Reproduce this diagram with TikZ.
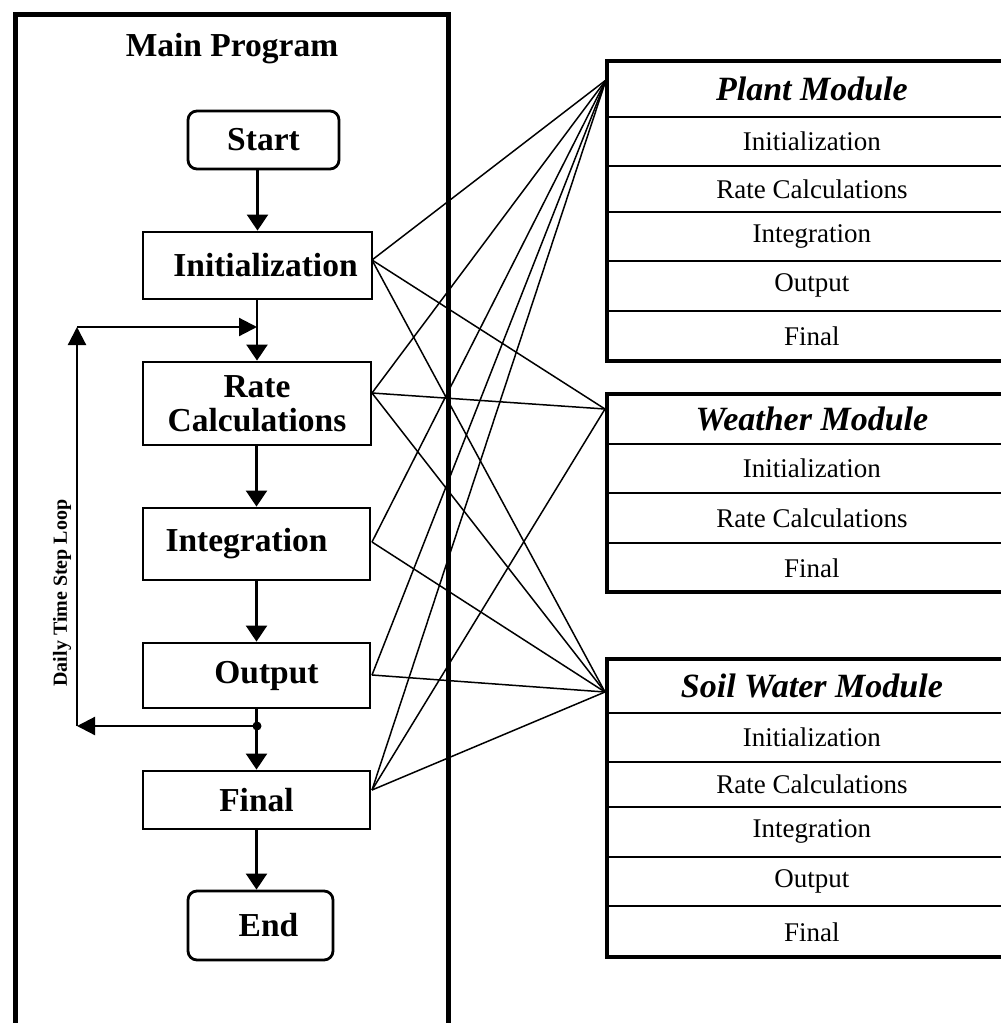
\documentclass[tikz,border=0pt]{standalone}
\usepackage{fontspec}
\setmainfont{Liberation Serif}
\usetikzlibrary{arrows.meta}
\begin{document}
\begin{tikzpicture}[x=1pt,y=-1pt,
  mbox/.style={draw,line width=2.8pt,rectangle,inner sep=0pt,font=\bfseries\fontsize{33.5}{34}\selectfont,align=center},
  rbox/.style={mbox,rounded corners=9pt},
  flow/.style={line width=2.2pt,-{Triangle[width=21pt,length=16pt]}},
  loopflow/.style={line width=2.2pt,-{Triangle[width=18pt,length=18pt]}},
  conn/.style={line width=1.5pt},
  modrow/.style={draw,line width=1.8pt,inner sep=0pt,minimum width=408pt,anchor=north west,font=\fontsize{27}{28}\selectfont},
  modtitle/.style={modrow,font=\bfseries\itshape\fontsize{34}{35}\selectfont},
  modframe/.style={draw,line width=4.8pt}
]
\useasboundingbox[fill=white] (0,0) rectangle (1001,1023);

% main program frame
\node[draw,line width=4.8pt,inner sep=0pt,minimum width=433pt,minimum height=1040pt,anchor=north west] (mainbox) at (13,12) {};
\node[font=\bfseries\fontsize{33.5}{34}\selectfont] (maintitle) at (232,49) {Main Program};

% flow boxes
\node[rbox,minimum width=151pt,minimum height=58pt] (start) at (263.5,140) {Start};
\node[mbox,minimum width=229pt,minimum height=67pt] (init) at (257.5,265.5) {\hspace*{16pt}Initialization};
\node[mbox,minimum width=228pt,minimum height=83pt] (rate) at (257,403.5) {Rate\\Calculations};
\node[mbox,minimum width=227pt,minimum height=72pt] (integ) at (256.5,544) {Integration\hspace*{20pt}};
\node[mbox,minimum width=227pt,minimum height=65pt] (output) at (256.5,675.5) {\hspace*{20pt}Output};
\node[mbox,minimum width=227pt,minimum height=58pt] (final) at (256.5,800) {Final};
\node[rbox,minimum width=145pt,minimum height=69pt] (endn) at (260.5,925.5) {\hspace*{16pt}End};

% flow arrows
\draw[flow] (start.south -| init.north) -- (init.north);
\draw[flow] (init.south -| rate.north) -- (rate.north);
\draw[flow] (rate.south -| integ.north) -- (integ.north);
\draw[flow] (integ.south -| output.north) -- (output.north);
\draw[flow] (output.south -| final.north) -- (final.north);
\draw[flow] (final.south) -- (final.south |- endn.north);

% loop
\coordinate (jn) at (257,726);
\coordinate (lb) at (77,726);
\coordinate (lt) at (77,327);
\coordinate (lr) at (257,327);
\draw[loopflow] (jn) -- (lb);
\draw[loopflow] (lb) -- (lt);
\draw[loopflow] (lt) -- (lr);
\fill (jn) circle (4.5);
\node[rotate=90,font=\bfseries\fontsize{20}{20}\selectfont] (looplbl) at (62,593) {Daily Time Step Loop};

% Plant module
\node[modtitle,minimum height=55pt] (p0) at (607,61) {Plant Module};
\node[modrow,minimum height=49pt] (p1) at (607,116) {Initialization};
\node[modrow,minimum height=46pt] (p2) at (607,165) {Rate Calculations};
\node[modrow,minimum height=49pt] (p3) at (607,211) {Integration};
\node[modrow,minimum height=50pt] (p4) at (607,260) {Output};
\node[modrow,minimum height=51pt] (p5) at (607,310) {Final};
\draw[modframe] (607,61) rectangle (1015,361);

% Weather module
\node[modtitle,minimum height=49pt] (w0) at (607,394) {Weather Module};
\node[modrow,minimum height=49pt] (w1) at (607,443) {Initialization};
\node[modrow,minimum height=50pt] (w2) at (607,492) {Rate Calculations};
\node[modrow,minimum height=50pt] (w3) at (607,542) {Final};
\draw[modframe] (607,394) rectangle (1015,592);

% Soil water module
\node[modtitle,minimum height=53pt] (s0) at (607,659) {Soil Water Module};
\node[modrow,minimum height=49pt] (s1) at (607,712) {Initialization};
\node[modrow,minimum height=45pt] (s2) at (607,761) {Rate Calculations};
\node[modrow,minimum height=50pt] (s3) at (607,806) {Integration};
\node[modrow,minimum height=49pt] (s4) at (607,856) {Output};
\node[modrow,minimum height=52pt] (s5) at (607,905) {Final};
\draw[modframe] (607,659) rectangle (1015,957);

% connection points
\coordinate (iR) at (372,260);
\coordinate (rR) at (372,393);
\coordinate (gR) at (372,542);
\coordinate (oR) at (372,675);
\coordinate (fR) at (372,790);
\coordinate (pL) at (606,80);
\coordinate (wL) at (605,409);
\coordinate (sL) at (605,692);

\foreach \a in {iR,rR,gR,oR,fR} {
  \draw[conn] (\a) -- (pL);
  \draw[conn] (\a) -- (sL);
}
\foreach \a in {iR,rR,fR} {
  \draw[conn] (\a) -- (wL);
}
\end{tikzpicture}
\end{document}
